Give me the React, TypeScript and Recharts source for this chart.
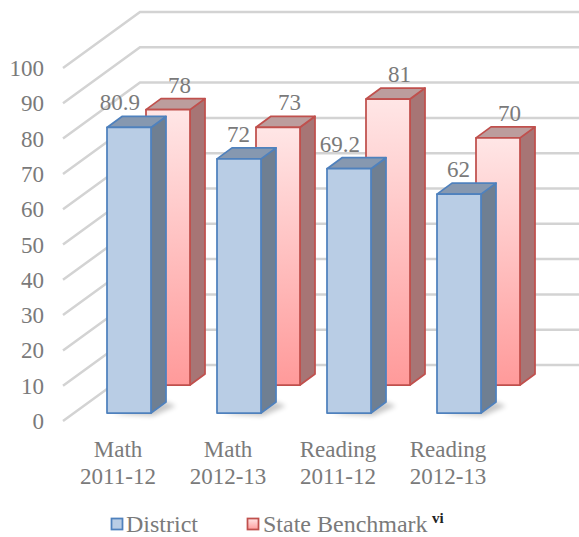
import { Bar, BarChart, CartesianGrid, LabelList, Legend, XAxis, YAxis } from 'recharts'

const subjects = ['Math', 'Math', 'Reading', 'Reading']
const years = ['2011-12', '2012-13', '2011-12', '2012-13']
const district = [80.9, 72, 69.2, 62]
const stateBenchmark = [78, 73, 81, 70]
const yTicks = [0, 10, 20, 30, 40, 50, 60, 70, 80, 90, 100]

const data = subjects.map((s, i) => ({
  cat: `${s} ${years[i]}`,
  district: district[i],
  state: stateBenchmark[i],
}))

const FONT = 'Liberation Serif'
const TEXT = '#7a7a7a'
const GRID = '#d3d3d3'

// oblique 3d look: full floor depth moves up-right by (77, -56)
const WALL_DX = 77
const WALL_DY = -56
const BOX_DX = 15
const BOX_DY = -11

// depth of each series row
const BLUE_OFF = { x: 11, y: -8 }
const RED_OFF = { x: 50, y: -36 }

type Faces = { front: string; top: string; side: string; stroke: string; shadow?: boolean }

const blueFaces: Faces = { front: '#b9cde5', top: '#8698b0', side: '#6f7f92', stroke: '#4f81bd', shadow: true }
const redFaces: Faces = { front: 'url(#redFront)', top: '#bc9d9d', side: '#a77575', stroke: '#c0504d' }

function gridLine(props: any) {
  const { x1, x2, y1, key } = props
  const by = y1 + WALL_DY
  return (
    <path
      key={key}
      d={`M${x1},${y1}L${x1 + WALL_DX},${by}L${x2 + WALL_DX},${by}`}
      fill="none"
      stroke={GRID}
      strokeWidth={2.5}
    />
  )
}

function makeBox(off: { x: number; y: number }, faces: Faces) {
  return (props: any) => {
    const { x, y, width, height } = props
    const fx = x + off.x
    const fy = y + off.y
    const fb = fy + height
    const rx = fx + width
    return (
      <g>
        {faces.shadow && (
          <polygon
            points={`${fx + 6},${fb + 1} ${rx + 2},${fb + 3} ${rx + BOX_DX + 10},${fb + BOX_DY + 4} ${rx + BOX_DX},${fb + BOX_DY}`}
            fill="#000"
            opacity={0.22}
            filter="url(#floorShadow)"
          />
        )}
        <g stroke={faces.stroke} strokeWidth={1.75} strokeLinejoin="round">
          <polygon
            points={`${rx},${fy} ${rx + BOX_DX},${fy + BOX_DY} ${rx + BOX_DX},${fb + BOX_DY} ${rx},${fb}`}
            fill={faces.side}
          />
          <polygon
            points={`${fx},${fy} ${fx + BOX_DX},${fy + BOX_DY} ${rx + BOX_DX},${fy + BOX_DY} ${rx},${fy}`}
            fill={faces.top}
          />
          <rect x={fx} y={fy} width={width} height={height} fill={faces.front} />
        </g>
      </g>
    )
  }
}

function makeLabel(off: { x: number; y: number }, shift: number) {
  return (props: any) => {
    const { x, y, width, value } = props
    return (
      <text
        x={x + off.x + width / 2 + shift}
        y={y + off.y + BOX_DY - 6}
        textAnchor="end"
        fill={TEXT}
        fontFamily={FONT}
        fontSize={23}
      >
        {value}
      </text>
    )
  }
}

function CategoryTick({ x, y, payload }: any) {
  const [subj, yr] = String(payload.value).split(' ')
  return (
    <text textAnchor="middle" fill={TEXT} fontFamily={FONT} fontSize={23}>
      <tspan x={x} y={y + 36}>{subj}</tspan>
      <tspan x={x} y={y + 63}>{yr}</tspan>
    </text>
  )
}

function ValueTick({ x, y, payload }: any) {
  return (
    <text x={x} y={y + 8} textAnchor="end" fill={TEXT} fontFamily={FONT} fontSize={23}>
      {payload.value}
    </text>
  )
}

function renderLegend() {
  return (
    <svg width={579} height={32} style={{ display: 'block', overflow: 'visible' }}>
      <defs>
        <linearGradient id="redLegend" x1="0" y1="0" x2="0" y2="1">
          <stop offset="0%" stopColor="#ffe6e6" />
          <stop offset="100%" stopColor="#ff9c9c" />
        </linearGradient>
      </defs>
      <rect x={111.5} y={13.5} width={11} height={11} fill="#b9cde5" stroke="#4f81bd" strokeWidth={1.75} />
      <text x={126} y={27} fill={TEXT} fontFamily={FONT} fontSize={24}>District</text>
      <rect x={247.5} y={13.5} width={11} height={11} fill="url(#redLegend)" stroke="#c0504d" strokeWidth={1.75} />
      <text x={263} y={27} fill={TEXT} fontFamily={FONT} fontSize={24}>State Benchmark</text>
      <text x={432} y={18} fill="#222" fontFamily={FONT} fontSize={15} fontWeight="bold">vi</text>
    </svg>
  )
}

export default function App() {
  return (
    <div style={{ position: 'absolute', left: 0, top: 0, width: 579, height: 537, background: '#fff' }}>
      <BarChart
        width={579}
        height={537}
        data={data}
        margin={{ top: 68, right: 76, bottom: 36, left: 0 }}
      >
        <defs>
          <linearGradient id="redFront" x1="0" y1="0" x2="0" y2="1">
            <stop offset="0%" stopColor="#ffe6e6" />
            <stop offset="100%" stopColor="#ff9a9a" />
          </linearGradient>
          <filter id="floorShadow" x="-50%" y="-50%" width="200%" height="200%">
            <feGaussianBlur stdDeviation="2.5" />
          </filter>
        </defs>
        <CartesianGrid vertical={false} horizontal={gridLine} />
        <XAxis
          dataKey="cat"
          height={80}
          axisLine={false}
          tickLine={false}
          tickSize={0}
          tickMargin={0}
          interval={0}
          tick={<CategoryTick />}
        />
        <XAxis xAxisId="back" dataKey="cat" hide />
        <YAxis
          domain={[0, 100]}
          ticks={yTicks}
          width={63}
          axisLine={false}
          tickLine={false}
          tickSize={0}
          tickMargin={19}
          tick={<ValueTick />}
        />
        <Legend
          verticalAlign="middle"
          align="center"
          layout="horizontal"
          wrapperStyle={{ top: 505, left: 0, width: 579, height: 32 }}
          content={renderLegend}
        />
        <Bar
          dataKey="state"
          xAxisId="back"
          name="State Benchmark"
          barSize={44}
          shape={makeBox(RED_OFF, redFaces)}
          isAnimationActive={false}
        >
          <LabelList dataKey="state" content={makeLabel(RED_OFF, 23)} />
        </Bar>
        <Bar
          dataKey="district"
          name="District"
          barSize={44}
          shape={makeBox(BLUE_OFF, blueFaces)}
          isAnimationActive={false}
        >
          <LabelList dataKey="district" content={makeLabel(BLUE_OFF, 11)} />
        </Bar>
      </BarChart>
    </div>
  )
}
